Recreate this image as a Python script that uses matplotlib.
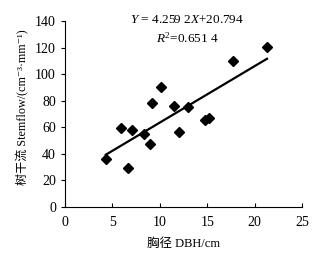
import matplotlib
matplotlib.use("Agg")
import matplotlib.pyplot as plt
import numpy as np

plt.rcParams["font.family"] = ["Liberation Serif", "Noto Sans CJK SC", "DejaVu Sans"]
plt.rcParams["mathtext.fontset"] = "custom"
plt.rcParams["mathtext.rm"] = "Liberation Serif"
plt.rcParams["mathtext.it"] = "Liberation Serif:italic"

# --- data ---
dbh = [4.3, 6.6, 5.9, 7.1, 8.3, 9.0, 9.2, 10.1, 11.5, 12.0, 13.0, 14.8, 15.2, 17.7, 21.3]
stemflow = [36, 29, 59, 57.5, 55, 47.5, 78.5, 90.5, 76, 56, 75.5, 65.5, 67, 110, 120.5]

slope = 4.2592
intercept = 20.794
fit_x = [min(dbh), max(dbh)]

xticks = [0, 5, 10, 15, 20, 25]
yticks = [0, 20, 40, 60, 80, 100, 120, 140]

fig = plt.figure(figsize=(3.17, 2.56), dpi=100)
ax = fig.add_axes([0.205, 0.193, 0.748, 0.725])

ax.plot(dbh, stemflow, "kD", ms=5.5, zorder=3)
fx = np.array(fit_x)
ax.plot(fx, slope * fx + intercept, "k-", lw=1.6)

ax.text(0.515, 1.005, r"$Y$ = 4.259 2$X$+20.794", transform=ax.transAxes,
        ha="center", va="center", fontsize=9.5)
ax.text(0.515, 0.905, r"$R^2$=0.651 4", transform=ax.transAxes,
        ha="center", va="center", fontsize=9.5)

ax.set_xlim(0, 25)
ax.set_ylim(0, 140)
ax.set_xticks(xticks)
ax.set_yticks(yticks)
ax.tick_params(axis="x", direction="in", length=3, labelsize=10, pad=7)
ax.tick_params(axis="y", direction="out", length=3, labelsize=10)
for s in ["top", "right"]:
    ax.spines[s].set_visible(False)

ax.set_xlabel("胸径 DBH/cm", fontsize=9, labelpad=6)
ax.set_ylabel("树干流 Stemflow/(cm\u207b\u00b3·mm\u207b\u00b9)", fontsize=8.7)
ax.yaxis.set_label_coords(-0.15, 0.535)

fig.savefig("out.png", dpi=100)
